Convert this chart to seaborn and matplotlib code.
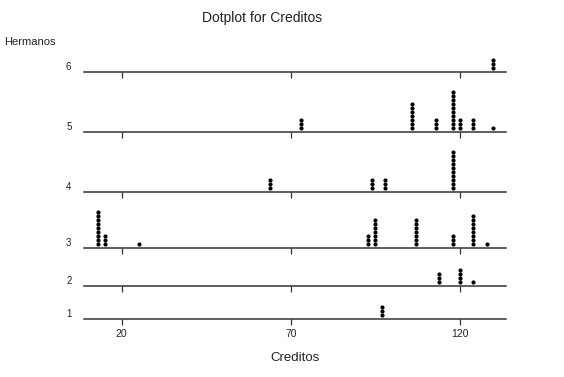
import numpy as np
import pandas as pd
import matplotlib
matplotlib.use("Agg")
import matplotlib.pyplot as plt
import seaborn as sns

# ---- data (value bins and number of stacked dots) ----
hermanos = [6, 5, 4, 3, 2, 1]
g6_vals, g6_counts = [130], [3]
g5_vals, g5_counts = [73, 106, 113, 118, 120, 124, 130], [3, 7, 3, 10, 3, 3, 1]
g4_vals, g4_counts = [64, 94, 98, 118], [3, 3, 3, 10]
g3_vals, g3_counts = [13, 15, 25, 93, 95, 107, 118, 124, 128], [9, 3, 1, 3, 7, 7, 3, 8, 1]
g2_vals, g2_counts = [114, 120, 124], [3, 4, 1]
g1_vals, g1_counts = [97], [3]
x_ticks = [20, 70, 120]

groups = {6: (g6_vals, g6_counts), 5: (g5_vals, g5_counts), 4: (g4_vals, g4_counts),
          3: (g3_vals, g3_counts), 2: (g2_vals, g2_counts), 1: (g1_vals, g1_counts)}

rows = []
for h, (vals, counts) in groups.items():
    for v, c in zip(vals, counts):
        for i in range(c):
            rows.append({"Hermanos": h, "Creditos": v, "stack": i})
df = pd.DataFrame(rows)

sns.set_style("white")
plt.rcParams["font.family"] = ["Liberation Sans", "DejaVu Sans"]

W, H = 564, 377
fig = plt.figure(figsize=(W / 100, H / 100), dpi=100)

baselines = {6: 72, 5: 132, 4: 192, 3: 248, 2: 286, 1: 319}
left_px, right_px = 84, 506
prev = 30
line_col = "#333333"
dot_step = 4.0
for h in hermanos:
    base = baselines[h]
    hpx = base - prev
    ax = fig.add_axes([left_px / W, (H - base) / H, (right_px - left_px) / W, hpx / H])
    sub = df[df["Hermanos"] == h].copy()
    sub["ypos"] = 4 + sub["stack"] * dot_step
    sns.scatterplot(data=sub, x="Creditos", y="ypos", ax=ax, color="black",
                    s=9, marker="o", linewidth=0, clip_on=False, legend=False)
    ax.set_xlim(8.85, 133.7)
    ax.set_ylim(0, hpx)
    for s in ["top", "right", "left"]:
        ax.spines[s].set_visible(False)
    ax.spines["bottom"].set_color(line_col)
    ax.spines["bottom"].set_linewidth(1.1)
    ax.set_xticks(x_ticks)
    ax.tick_params(axis="x", direction="out", length=4, width=0.9, color=line_col,
                   bottom=True, pad=3, labelsize=7.5, labelcolor="#222222")
    if h != 1:
        ax.set_xticklabels([])
    ax.set_yticks([6])
    ax.set_yticklabels([str(h)])
    ax.tick_params(axis="y", length=0, pad=9, labelsize=7, labelcolor="#222222")
    ax.set_xlabel("")
    ax.set_ylabel("")
    ax.patch.set_alpha(0)
    prev = base

fig.text(262 / W, 1 - 18 / H, "Dotplot for Creditos", ha="center", va="center",
         fontsize=10, color="#222222")
fig.text(4 / W, 1 - 42 / H, "Hermanos", ha="left", va="center", fontsize=8, color="#222222")
fig.text(295 / W, 1 - 358 / H, "Creditos", ha="center", va="center", fontsize=9.5, color="#222222")

fig.savefig("out.png", dpi=100)
